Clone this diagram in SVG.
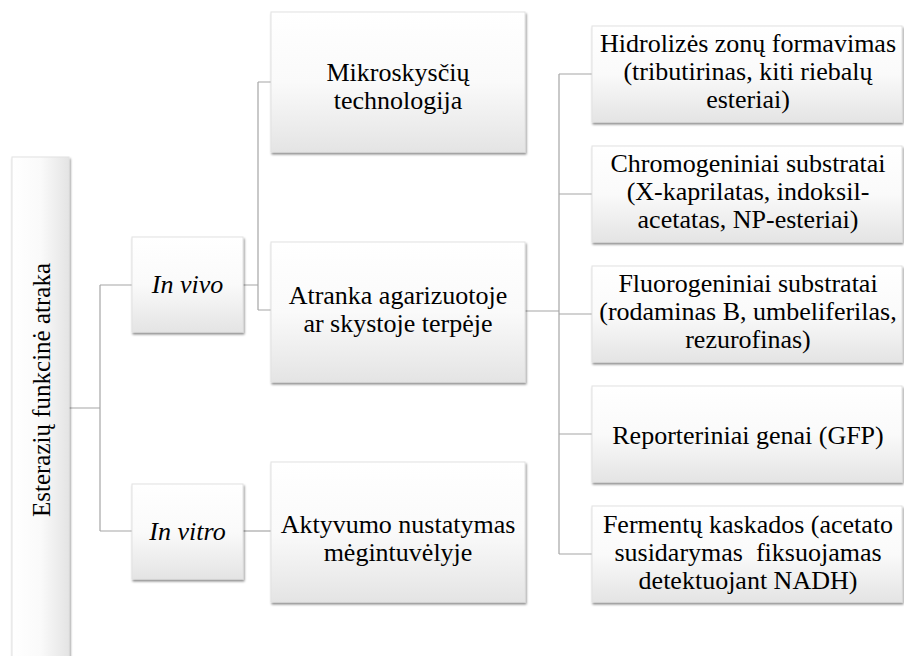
<svg xmlns="http://www.w3.org/2000/svg" width="904" height="656" viewBox="0 0 904 656">
<defs>
<linearGradient id="g" x1="0" y1="0" x2="0" y2="1">
<stop offset="0" stop-color="#ffffff"/>
<stop offset="0.5" stop-color="#fafafa"/>
<stop offset="1" stop-color="#e4e4e4"/>
</linearGradient>
<linearGradient id="gr" x1="0" y1="0" x2="1" y2="0">
<stop offset="0" stop-color="#ffffff"/>
<stop offset="0.5" stop-color="#fafafa"/>
<stop offset="1" stop-color="#e4e4e4"/>
</linearGradient>
<filter id="sh" x="-10%" y="-10%" width="130%" height="130%">
<feDropShadow dx="1" dy="2" stdDeviation="1" flood-color="#000" flood-opacity="0.45"/>
</filter>
</defs>
<style>
.box{fill:url(#g);stroke:#e2e2e2;stroke-width:1;filter:url(#sh)}
.rbox{fill:url(#gr);stroke:#e2e2e2;stroke-width:1;filter:url(#sh)}
.t{font-family:'Liberation Serif','Times New Roman',serif;font-size:26px;fill:#000;text-anchor:middle}
.r{font-size:25px}
.it{font-style:italic;font-size:26px}
.con{fill:none;stroke:#a6a6a6;stroke-width:1.2}
</style>
<rect width="904" height="656" fill="#fff"/>
<g id="connectors">
<path class="con" d="M69 408H100M100 285V531M100 285H132M100 531H132"/>
<path class="con" d="M243 285H258M258 82V310M258 82H271M258 310H271"/>
<path class="con" d="M243 531H271"/>
<path class="con" d="M525 311H559M559 74V554M559 74H592M559 194H592M559 314H592M559 434H592M559 554H592"/>
</g>
<g id="root">
<rect class="rbox" x="12" y="157" width="57" height="520"/>
<text class="t r" transform="translate(50 390) rotate(-90)">Esterazių funkcinė atraka</text>
</g>
<g id="invivo">
<rect class="box" x="132" y="237" width="111" height="95"/>
<text class="t it" x="187.5" y="293">In vivo</text>
</g>
<g id="invitro">
<rect class="box" x="132" y="484" width="111" height="95"/>
<text class="t it" x="187.5" y="540">In vitro</text>
</g>
<g id="mikro">
<rect class="box" x="271" y="12" width="254" height="140"/>
<text class="t" x="398" y="81">Mikroskysčių</text>
<text class="t" x="398" y="109">technologija</text>
</g>
<g id="atranka">
<rect class="box" x="271" y="242" width="254" height="140"/>
<text class="t" x="398" y="304">Atranka agarizuotoje</text>
<text class="t" x="398" y="332">ar skystoje terpėje</text>
</g>
<g id="aktyvumo">
<rect class="box" x="271" y="462" width="254" height="140"/>
<text class="t" x="398" y="533">Aktyvumo nustatymas</text>
<text class="t" x="398" y="561">mėgintuvėlyje</text>
</g>
<g id="hidro">
<rect class="box" x="592" y="26" width="310" height="96"/>
<text class="t" x="748" y="52">Hidrolizės zonų formavimas</text>
<text class="t" x="748" y="80">(tributirinas, kiti riebalų</text>
<text class="t" x="748" y="108">esteriai)</text>
</g>
<g id="chromo">
<rect class="box" x="592" y="146" width="310" height="96"/>
<text class="t" x="748" y="172">Chromogeniniai substratai</text>
<text class="t" x="748" y="200">(X-kaprilatas, indoksil-</text>
<text class="t" x="748" y="228">acetatas, NP-esteriai)</text>
</g>
<g id="fluoro">
<rect class="box" x="592" y="266" width="310" height="96"/>
<text class="t" x="748" y="292">Fluorogeniniai substratai</text>
<text class="t" x="748" y="320">(rodaminas B, umbeliferilas,</text>
<text class="t" x="748" y="348">rezurofinas)</text>
</g>
<g id="reporter">
<rect class="box" x="592" y="386" width="310" height="96"/>
<text class="t" x="748" y="444">Reporteriniai genai (GFP)</text>
</g>
<g id="fermentu">
<rect class="box" x="592" y="506" width="310" height="96"/>
<text class="t" x="748" y="533" xml:space="preserve">Fermentų kaskados (acetato</text>
<text class="t" x="748" y="561" xml:space="preserve">susidarymas  fiksuojamas</text>
<text class="t" x="748" y="589">detektuojant NADH)</text>
</g>
</svg>
